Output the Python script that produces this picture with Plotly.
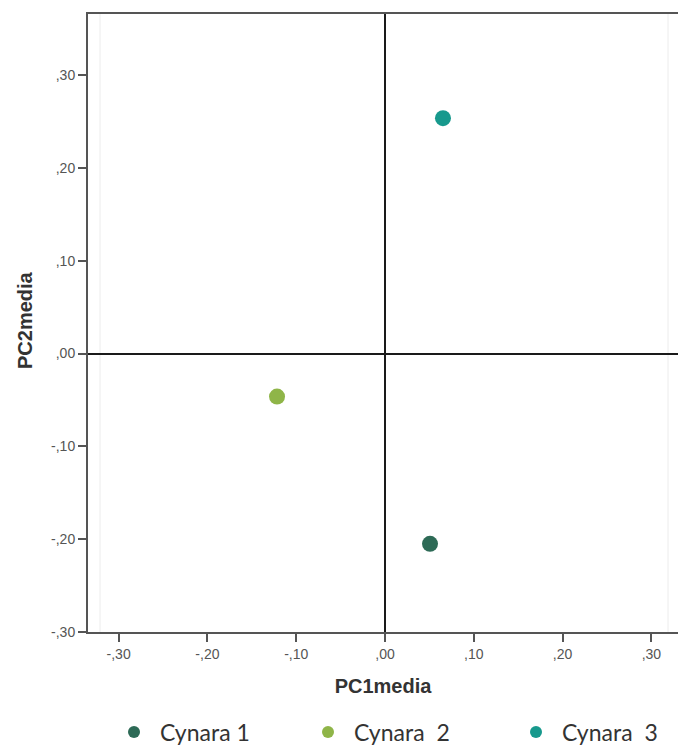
import plotly.graph_objects as go

groups = ["\u00a0Cynara 1", "\u00a0Cynara\u00a0 2", "\u00a0Cynara\u00a0 3"]
pc1 = [0.0507, -0.1216, 0.0653]
pc2 = [-0.205, -0.0464, 0.2535]
colors = ["#2d6a56", "#8fb548", "#17998d"]

tick_vals = [-0.30, -0.20, -0.10, 0.0, 0.10, 0.20, 0.30]
tick_text = ["-,30", "-,20", "-,10", ",00", ",10", ",20", ",30"]

# legend marker centre positions (pixels)
legend_px = [134, 328, 536]
legend_names = ["legend", "legend2", "legend3"]

fig = go.Figure()
for g, x, y, c, lg in zip(groups, pc1, pc2, colors, legend_names):
    fig.add_trace(go.Scatter(x=[x], y=[y], mode="markers", name=g, legend=lg,
                             marker=dict(size=16, color=c, line=dict(width=0))))

axis_common = dict(
    tickvals=tick_vals, ticktext=tick_text,
    showgrid=False, zeroline=True, zerolinecolor="#1a1a1a", zerolinewidth=2,
    showline=True, linecolor="#555555", linewidth=2,
    ticks="outside", ticklen=8, tickwidth=2, tickcolor="#555555",
    tickfont=dict(family="Liberation Sans, Arial", size=14, color="#555555"),
)

legend_font = dict(family="Lato, Open Sans", size=23, color="#333333")
legends = {}
for lg, px in zip(legend_names, legend_px):
    legends[lg] = dict(x=(px - 20) / 678, xref="container", xanchor="left",
                       y=1 - 732 / 745, yref="container", yanchor="middle",
                       font=legend_font, bgcolor="rgba(0,0,0,0)", itemsizing="constant")

title_font = dict(family="Liberation Sans, Arial", size=20, color="#333333")

fig.update_layout(
    width=678, height=745,
    margin=dict(l=88, r=0, t=14, b=113, autoexpand=False),
    paper_bgcolor="white", plot_bgcolor="white",
    xaxis=dict(range=[-0.3345, 0.33], mirror=True, **axis_common,
               title=dict(text="<b>PC1media</b>", standoff=18, font=title_font)),
    yaxis=dict(range=[-0.3, 0.3657], mirror=False, **axis_common),
    showlegend=True,
    annotations=[
        dict(text="<b>PC2media</b>", textangle=-90, font=title_font,
             xref="paper", yref="paper", x=(25 - 88) / 590, y=(632 - 320) / 618,
             xanchor="center", yanchor="middle", showarrow=False),
    ],
    shapes=[
        dict(type="line", xref="paper", yref="paper",
             x0=(100 - 88) / 590, x1=(100 - 88) / 590, y0=0.0, y1=1.0,
             line=dict(color="#ececec", width=1), layer="below"),
        dict(type="line", xref="paper", yref="paper",
             x0=(668 - 88) / 590, x1=(668 - 88) / 590, y0=0.0, y1=1.0,
             line=dict(color="#ececec", width=1), layer="below"),
    ],
    **legends,
)

fig.write_html("out.html", config={"displayModeBar": False},
               post_script="document.body.style.margin='0';")
